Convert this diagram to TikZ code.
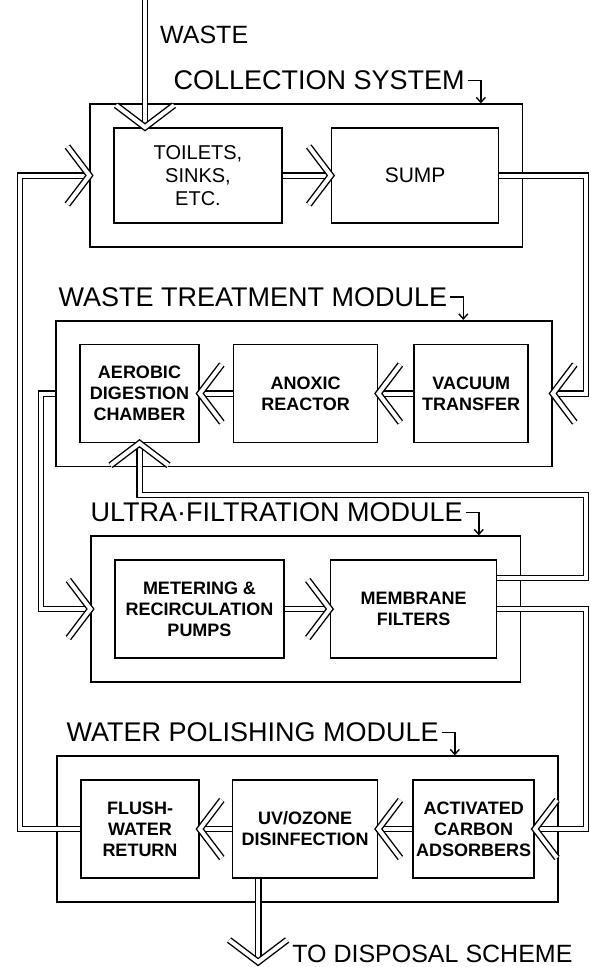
\documentclass[tikz,border=0pt]{standalone}
\usepackage{fontspec}
\setmainfont{Liberation Sans}
\usetikzlibrary{arrows.meta,positioning,fit}

\begin{document}
\begin{tikzpicture}[
  x=1pt, y=-1pt,
  unit/.style={rectangle, draw, line width=1.6pt, minimum height=98pt,
               inner xsep=2pt, align=center,
               font=\fontsize{18}{21}\selectfont\bfseries},
  module/.style={rectangle, draw, line width=1.6pt, inner sep=23pt},
  modlabel/.style={inner sep=0pt, font=\fontsize{27}{29}\selectfont},
  pipe/.style={double, line width=1.4pt, double distance=4pt},
  hookarr/.style={-{Straight Barb[length=5pt, width=9pt]}, line width=1.4pt},
  chev/.pic={\draw[pipe] (-22,-29) -- (0,0) -- (-22,29);},
]
  \path[use as bounding box, fill=white] (0,0) rectangle (590,967);

  % Collection system
  \node[unit, minimum width=168pt, minimum height=95pt,
        font=\fontsize{20}{23}\selectfont] (toilets) at (198,175.5) {TOILETS,\\SINKS,\\ETC.};
  \node[unit, minimum width=167pt, minimum height=95pt,
        font=\fontsize{21}{23}\selectfont, right=48pt of toilets] (sump) {SUMP};
  \node[module, fit=(toilets)(sump)] (csm) {};
  \node[modlabel, above right=13pt and 84pt of csm.north west] (cslab) {COLLECTION SYSTEM};
  \draw[hookarr] ([xshift=3pt]cslab.east) -| ([xshift=16pt]cslab.east |- csm.north);

  % Waste treatment
  \node[unit, minimum width=119pt] (aerobic) at (139.5,393.5) {AEROBIC\\DIGESTION\\CHAMBER};
  \node[unit, minimum width=144pt, right=33pt of aerobic] (anoxic) {ANOXIC\\REACTOR};
  \node[unit, minimum width=114pt, right=35pt of anoxic] (vacuum) {VACUUM\\TRANSFER};
  \node[module, fit=(aerobic)(anoxic)(vacuum)] (wtm) {};
  \node[modlabel, above right=13pt and 3pt of wtm.north west] (wtmlab) {WASTE TREATMENT MODULE};
  \draw[hookarr] ([xshift=3pt]wtmlab.east) -| ([xshift=16pt]wtmlab.east |- wtm.north);

  % Ultra-filtration
  \node[unit, minimum width=169pt] (metering) at (199.5,609) {METERING \&\\RECIRCULATION\\PUMPS};
  \node[unit, minimum width=166pt, right=45pt of metering] (membrane) {MEMBRANE\\FILTERS};
  \node[module, fit=(metering)(membrane)] (ufm) {};
  \node[modlabel, above right=13pt and 0pt of ufm.north west] (ufmlab) {ULTRA·FILTRATION MODULE};
  \draw[hookarr] ([xshift=3pt]ufmlab.east) -| ([xshift=16pt]ufmlab.east |- ufm.north);

  % Water polishing
  \node[unit, minimum width=118pt] (flush) at (140,829) {FLUSH-\\WATER\\RETURN};
  \node[unit, minimum width=145pt, right=32pt of flush] (uv) {UV/OZONE\\DISINFECTION};
  \node[unit, minimum width=121pt, right=34pt of uv] (carbon) {ACTIVATED\\CARBON\\ADSORBERS};
  \node[module, fit=(flush)(uv)(carbon)] (wpm) {};
  \node[modlabel, above right=13pt and 10pt of wpm.north west] (wpmlab) {WATER POLISHING MODULE};
  \draw[hookarr] ([xshift=3pt]wpmlab.east) -| ([xshift=16pt]wpmlab.east |- wpm.north);

  % pipe runs
  \coordinate (wastetop) at (145,0);
  \coordinate (retx) at (20,0);
  \coordinate (lx) at (41,0);
  \coordinate (rx) at (586,0);
  \coordinate (recy) at (0,495);
  \coordinate (bot) at (0,962);

  % waste in
  \draw[pipe] (wastetop) -- (wastetop |- toilets.north);
  \pic[rotate=-90] at (wastetop |- toilets.north) {chev};
  \node[modlabel, anchor=west, font=\fontsize{25}{27}\selectfont] (wastelab) at (160,35) {WASTE};

  \draw[pipe] (toilets) -- (sump);
  \pic at (sump.west) {chev};
  \draw[pipe] (sump.east) -| (rx |- wtm.east) -- (wtm.east);
  \pic[rotate=180] at (wtm.east) {chev};

  \draw[pipe] (vacuum) -- (anoxic);
  \pic[rotate=180] at (anoxic.east) {chev};
  \draw[pipe] (anoxic) -- (aerobic);
  \pic[rotate=180] at (aerobic.east) {chev};
  \draw[pipe] (aerobic.west -| wtm.west) -| (lx |- ufm.west) -- (ufm.west);
  \pic at (ufm.west) {chev};

  \draw[pipe] (metering) -- (membrane);
  \pic at (membrane.west) {chev};
  \draw[pipe] ([yshift=31pt]membrane.east) -| (rx |- recy) -| (aerobic.south);
  \pic[rotate=90] at (aerobic.south) {chev};
  \draw[pipe] (membrane.east) -| (rx |- carbon.east) -- (carbon.east);
  \pic[rotate=180] at (carbon.east) {chev};

  \draw[pipe] (carbon) -- (uv);
  \pic[rotate=180] at (uv.east) {chev};
  \draw[pipe] (uv) -- (flush);
  \pic[rotate=180] at (flush.east) {chev};
  \draw[pipe] (flush.west) -| (retx |- csm.west) -- (csm.west);
  \pic at (csm.west) {chev};

  % disposal
  \coordinate (outlet) at ([xshift=-47pt]uv.south |- bot);
  \draw[pipe] ([xshift=-47pt]uv.south) -- (outlet);
  \pic[rotate=-90] at (outlet) {chev};
  \node[modlabel, anchor=base west, font=\fontsize{25}{27}\selectfont] (displab) at ([xshift=34pt]outlet) {TO DISPOSAL SCHEME};
\end{tikzpicture}
\end{document}
